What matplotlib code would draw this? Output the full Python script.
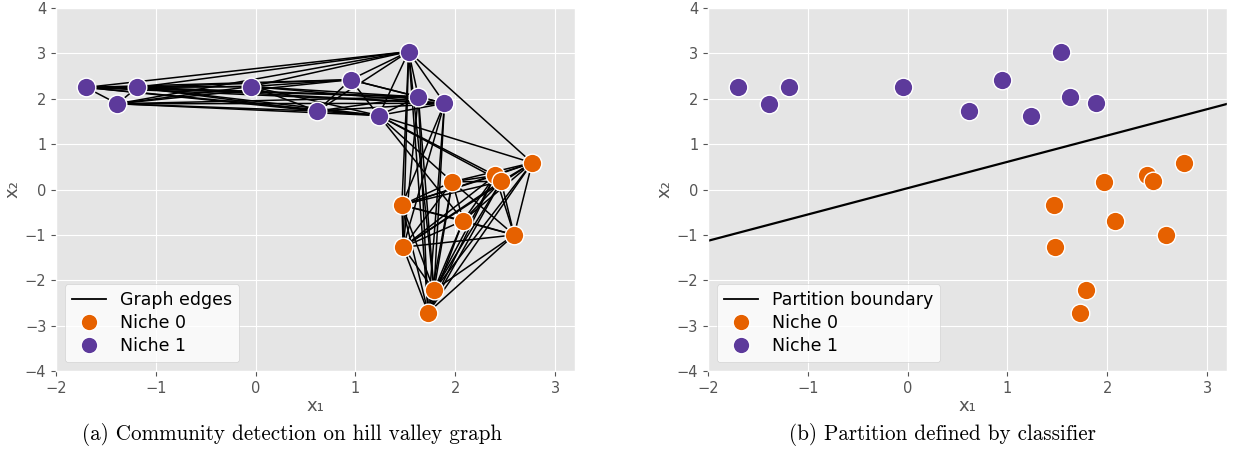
import matplotlib
matplotlib.use("Agg")
import matplotlib.pyplot as plt
from matplotlib.lines import Line2D

plt.style.use("ggplot")

# Niche 0 points
niche0_x = [2.77, 1.97, 2.40, 2.46, 1.465, 2.08, 2.59, 1.478, 1.787, 1.728]
niche0_y = [0.59, 0.17, 0.31, 0.18, -0.34, -0.685, -1.00, -1.27, -2.22, -2.71]
# Niche 1 points
niche1_x = [-1.70, -1.385, -1.187, -0.044, 0.618, 0.951, 1.533, 1.234, 1.630, 1.892]
niche1_y = [2.25, 1.89, 2.25, 2.27, 1.73, 2.42, 3.04, 1.63, 2.04, 1.90]

# Linear partition boundary: y = slope * x + intercept
boundary_slope = 0.58
boundary_intercept = 0.03
boundary_x = [-2.0, 3.2]

# Hill-valley graph edges; nodes 0-9 are niche 0, 10-19 are niche 1
within0 = [(i, j) for i in range(10) for j in range(i + 1, 10)]
within1 = [(i, j) for i in range(10, 20) for j in range(i + 1, 20)]
cross = [(17, 0), (17, 1), (17, 2), (17, 3), (17, 5),
         (16, 0), (16, 4), (16, 7), (16, 8), (16, 9),
         (18, 8), (18, 9), (18, 7),
         (19, 4), (19, 7), (19, 8), (19, 9)]
edges = within0 + within1 + cross

ORANGE = "#E66100"
PURPLE = "#5D3A9B"

all_x = niche0_x + niche1_x
all_y = niche0_y + niche1_y

fig = plt.figure(figsize=(12.34, 4.57), dpi=100)
ax1 = fig.add_axes([0.0454, 0.188, 0.4206, 0.7945])
ax2 = fig.add_axes([0.5737, 0.188, 0.4206, 0.7945])

for a, b in edges:
    ax1.plot([all_x[a], all_x[b]], [all_y[a], all_y[b]], color="black",
             lw=1.1, zorder=2)

bx = boundary_x
by = [boundary_slope * v + boundary_intercept for v in bx]
ax2.plot(bx, by, color="black", lw=1.6, zorder=2)

for ax in (ax1, ax2):
    ax.scatter(niche0_x, niche0_y, s=180, color=ORANGE, edgecolor="white",
               linewidth=1.0, zorder=3)
    ax.scatter(niche1_x, niche1_y, s=180, color=PURPLE, edgecolor="white",
               linewidth=1.0, zorder=3)
    ax.set_xlim(-2, 3.2)
    ax.set_ylim(-4, 4)
    ax.set_xticks(range(-2, 4))
    ax.set_yticks(range(-4, 5))
    ax.tick_params(labelsize=10.5, colors="#555555")
    ax.set_xlabel("x\u2081", fontsize=13, color="#555555", labelpad=1)
    ax.set_ylabel("x\u2082", fontsize=13, color="#555555", labelpad=2)

def legend_for(ax, line_label):
    handles = [
        Line2D([0], [0], color="black", lw=1.3, label=line_label),
        Line2D([0], [0], marker="o", ls="none", markersize=12,
               markerfacecolor=ORANGE, markeredgecolor="white", label="Niche 0"),
        Line2D([0], [0], marker="o", ls="none", markersize=12,
               markerfacecolor=PURPLE, markeredgecolor="white", label="Niche 1"),
    ]
    ax.legend(handles=handles, loc="lower left", fontsize=12.5,
              facecolor="white", framealpha=0.8, edgecolor="#cccccc",
              labelcolor="black", labelspacing=0.3)

legend_for(ax1, "Graph edges")
legend_for(ax2, "Partition boundary")

fig.text(0.2366, 0.05, "(a) Community detection on hill valley graph",
         ha="center", va="center", fontsize=15.2, family="cmr10")
fig.text(0.764, 0.05, "(b) Partition defined by classifier",
         ha="center", va="center", fontsize=15.2, family="cmr10")

fig.savefig("out.png", dpi=100)
